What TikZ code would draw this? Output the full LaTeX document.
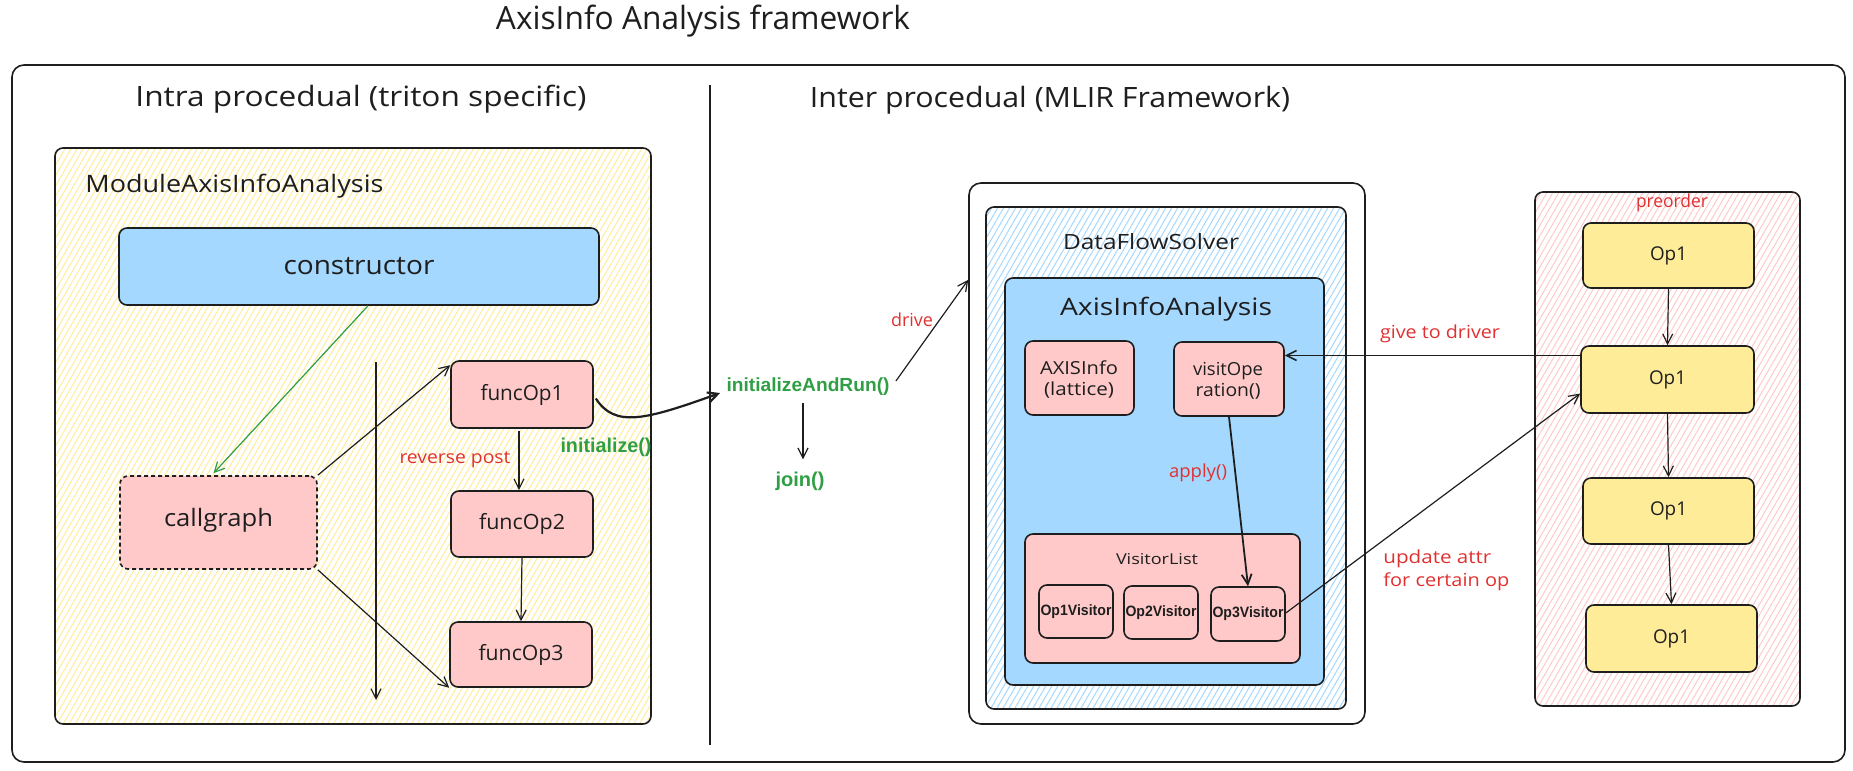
\documentclass[tikz,border=0pt]{standalone}
\usepackage{fontspec}
\usepackage{graphicx}
\setmainfont{Open Sans}
\newfontfamily\boldsans{Liberation Sans Bold}
\usetikzlibrary{arrows.meta,patterns.meta,fit,calc}
\definecolor{blueF}{HTML}{A5D8FF}
\definecolor{pinkF}{HTML}{FFC9C9}
\definecolor{yellowF}{HTML}{FFEC99}
\definecolor{redT}{HTML}{E03131}
\definecolor{greenT}{HTML}{2F9E44}
\definecolor{ink}{HTML}{1E1E1E}
\newcommand\fsz[2]{\fontsize{#1}{#2}\selectfont}
\newcommand\tw[2]{\resizebox{#1pt}{\height}{#2}}
\begin{document}
\begin{tikzpicture}[x=0.5pt,y=-0.5pt,
  box/.style={draw=ink, line width=0.8pt, rounded corners=4pt, inner sep=0pt},
  hatch/.style={pattern={Lines[angle=60,distance=2.6pt,line width=0.5pt]}, pattern color=#1},
  txt/.style={text=ink, inner sep=1pt},
  arr/.style={draw=ink, line width=0.6pt, -{Straight Barb[length=5pt,width=5pt]}},
  redlbl/.style={text=redT, inner sep=1pt, font=\fsz{9}{11}},
  greenlbl/.style={text=greenT, inner sep=1pt, font=\boldsans\fsz{10}{12}},
  vis/.style={box, fill=pinkF},
  vistxt/.style={txt, font=\boldsans\fsz{7.5}{9}},
  opbox/.style={box, fill=yellowF},
  optxt/.style={txt, font=\fsz{9.5}{11}},
  functxt/.style={txt, font=\fsz{10.5}{12}}]
\useasboundingbox (0,0) rectangle (1853,771);

% titles
\node[txt, font=\fsz{16}{19}] (title) at (703,21) {\tw{207}{AxisInfo Analysis framework}};
\node[box, rounded corners=6pt, fit={(12,65)(1845,762)}] (outer) {};
\draw[ink, line width=0.8pt] (710,85) -- (710,745);
\node[txt, font=\fsz{14}{17}] (intra) at (361,99) {\tw{225.5}{Intra procedual (triton specific)}};
\node[txt, font=\fsz{14}{17}] (inter) at (1050,100) {\tw{240}{Inter procedual (MLIR Framework)}};

% left module
\node[box, hatch=yellowF, fit={(55,148)(651,724)}] (modbox) {};
\node[txt, font=\fsz{12}{14}, anchor=west, inner sep=0pt] (modlbl) at (85,186) {\tw{149}{ModuleAxisInfoAnalysis}};
\node[box, fill=blueF, fit={(119,228)(599,305)}] (ctor) {};
\node[txt, font=\fsz{13}{15}] (ctortxt) at (ctor.center) {\tw{75.5}{constructor}};
\node[box, fill=pinkF, dashed, dash pattern=on 2pt off 1.5pt, fit={(120,476)(317,569)}] (callgraph) {};
\node[txt, font=\fsz{12}{14}] (cgtxt) at ($(callgraph.center)+(0,-2)$) {\tw{54.5}{callgraph}};
\node[box, fill=pinkF, fit={(451,361)(593,428)}] (f1) {};
\node[functxt] (f1txt) at (f1.center) {\tw{41.5}{funcOp1}};
\node[box, fill=pinkF, fit={(451,491)(593,557)}] (f2) {};
\node[functxt] (f2txt) at (f2.center) {\tw{43}{funcOp2}};
\node[box, fill=pinkF, fit={(450,622)(592,687)}] (f3) {};
\node[functxt] (f3txt) at (f3.center) {\tw{42.5}{funcOp3}};
\node[redlbl] (revpost) at (455,460) {\tw{55.5}{reverse post}};
\node[greenlbl] (initlbl) at (606,447) {\tw{45.5}{initialize()}};

\coordinate (vtop) at (376,362);
\coordinate (vbot) at (376,700);
\draw[arr] (vtop) -- (vbot);
\draw[arr, draw=greenT] ($(ctor.south)+(9,0)$) -- ($(callgraph.north)+(-5,-2)$);
\draw[arr] (callgraph.north east) -- ($(f1.north west)+(0,5)$);
\draw[arr] (callgraph.south east) -- (f3.south west);
\draw[arr] ($(f1.south)+(-3,2)$) -- ($(f2.north)+(-3,0)$);
\draw[arr] (f2.south) -- (f3.north);

% middle
\node[text=greenT, inner sep=1pt, font=\boldsans\fsz{9.5}{11}] (initrun) at (808,387) {\tw{81.5}{initializeAndRun()}};
\node[greenlbl] (join) at (800,481) {\tw{24.5}{join()}};
\node[redlbl] (drive) at (912,320) {\tw{21}{drive}};
\draw[arr, line width=1.1pt] ($(f1.east)+(2,4)$) .. controls (615,428) and (645,420) .. ($(initrun.west)+(-4,6)$);
\draw[arr] ($(initrun.south)+(-5,5)$) -- ($(join.north)+(3,-10)$);

% DataFlowSolver
\node[box, fill=white, rounded corners=6pt, fit={(969,183)(1365,724)}] (dfs) {};
\node[box, hatch=blueF, fit={(986,207)(1346,709)}] (dfsin) {};
\node[txt, font=\fsz{10.5}{12}] (dfslbl) at (1151,242) {\tw{88}{DataFlowSolver}};
\node[box, fill=blueF, fit={(1005,278)(1324,685)}] (aia) {};
\node[txt, font=\fsz{12}{14}] (aialbl) at (1166,309) {\tw{106}{AxisInfoAnalysis}};
\node[box, fill=pinkF, fit={(1025,341)(1134,415)}] (axinfo) {};
\node[txt, font=\fsz{9}{10.5}, align=center] (axinfotxt) at (1079,380) {\tw{39}{AXISInfo}\\\tw{35}{(lattice)}};
\node[box, fill=pinkF, fit={(1174,342)(1284,416)}] (visitop) {};
\node[txt, font=\fsz{9}{10.5}, align=center] (visitoptxt) at (1228,381) {\tw{35}{visitOpe}\\\tw{32.5}{ration()}};
\node[box, fill=pinkF, fit={(1025,534)(1300,663)}] (vlist) {};
\node[txt, font=\fsz{7.5}{9}] (vlistlbl) at (1157,559) {\tw{41}{VisitorList}};
\node[vis, fit={(1039,585)(1113,638)}] (op1v) {};
\node[vistxt] at (op1v.center) {\tw{35.5}{Op1Visitor}};
\node[vis, fit={(1124,586)(1198,639)}] (op2v) {};
\node[vistxt] at (op2v.center) {\tw{35.5}{Op2Visitor}};
\node[vis, fit={(1211,587)(1285,641)}] (op3v) {};
\node[vistxt] at (op3v.center) {\tw{35.5}{Op3Visitor}};
\node[redlbl] (apply) at (1198,473) {\tw{29}{apply()}};
\draw[arr, line width=0.9pt] (visitop.south) -- (op3v.north);
\coordinate (driveEnd) at ($(dfs.north west)!0.18!(dfs.south west)$);
\draw[arr] ($(initrun.east)+(4,-6)$) -- (driveEnd);

% preorder
\node[box, hatch=pinkF, fit={(1535,192)(1800,706)}] (pre) {};
\node[redlbl] (prelbl) at (1672,203) {\tw{36}{preorder}};
\node[opbox, fit={(1583,223)(1754,288)}] (opA) {};
\node[optxt] at (opA.center) {\tw{18.5}{Op1}};
\node[opbox, fit={(1581,346)(1754,413)}] (opB) {};
\node[optxt] at (opB.center) {\tw{18.5}{Op1}};
\node[opbox, fit={(1583,478)(1754,544)}] (opC) {};
\node[optxt] at (opC.center) {\tw{18.5}{Op1}};
\node[opbox, fit={(1586,605)(1757,672)}] (opD) {};
\node[optxt] at (opD.center) {\tw{18.5}{Op1}};
\draw[arr] (opA.south) -- (opB.north);
\draw[arr] (opB.south) -- (opC.north);
\draw[arr] (opC.south) -- (opD.north);
\node[redlbl] (give) at (1440,334) {\tw{60}{give to driver}};
\node[redlbl, align=left, font=\fsz{9}{11.5}, anchor=west] (upd) at (1381,570) {\tw{54}{update attr}\\\tw{63}{for certain op}};
\draw[arr, line width=0.8pt] ($(opB.west)+(0,-24)$) -- (visitop.east |- {$(opB.west)+(0,-24)$});
\draw[arr] ($(op3v.east)+(0,-1)$) -- ($(opB.west)+(0,14)$);
\end{tikzpicture}
\end{document}
